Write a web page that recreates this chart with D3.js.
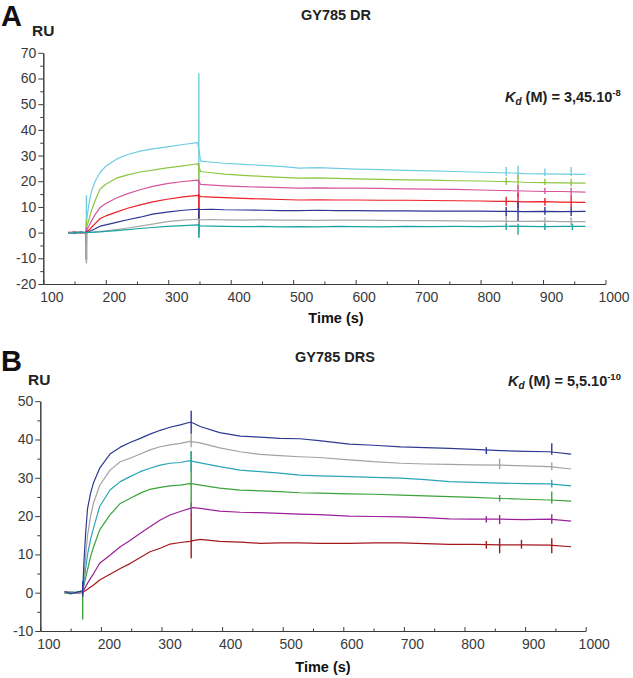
<!DOCTYPE html>
<html>
<head>
<meta charset="utf-8">
<script src="https://cdn.jsdelivr.net/npm/d3@7"></script>
<style>
body{margin:0;background:#fff;}
svg text{font-family:"Liberation Sans",Arial,Helvetica,sans-serif;}
</style>
</head>
<body>
<div id="chart"></div>
<script>
// ---- panel A : GY785 DR ----
var tA = [140,150,160,168,170,173,177,183,191,200,217,235,255,275,298,324,347,352,370,390,420,450,480,510,540,570,600,640,680,720,760,800,830,850,870,900,930,968];
var aCyan  = [-0.2,0.3,-0.1,0.2, 6,11,16,20,23.5,25.8,28.6,30.4,31.7,32.6,33.4,34.3,35, 27.8,27.4,27,26.6,26.2,25.8,25.1,25.3,25,24.7,24.5,24.2,24,23.8,23.5,23.3,23.2,23,22.9,22.8,22.7];
var aGreen = [0.2,-0.3,0.1,0, 2.5,5,8.5,12.5,17,18.8,21.2,22.5,23.6,24.3,25.2,26,26.8, 23.8,23.3,22.8,22.3,21.9,21.5,21.2,21.3,21.1,20.9,20.7,20.5,20.4,20.2,20.1,19.9,19.8,19.6,19.5,19.4,19.3];
var aPink  = [0,0.2,-0.2,0.1, 1.2,2.5,4.5,7,9.8,11.3,13.5,15.2,16.7,18,19.1,19.9,20.4, 18.8,18.5,18.2,17.9,17.7,17.5,17.3,17.4,17.3,17.3,17.2,17,16.9,16.8,16.6,16.4,16.3,16.2,16,16,15.8];
var aRed   = [-0.1,0.2,0,0, 0.5,1,2,3.5,5.5,6.5,8,9.5,10.8,12,13,13.9,14.5, 14,13.8,13.6,13.3,13.1,12.9,12.7,12.8,12.7,12.7,12.6,12.6,12.5,12.4,12.3,12.2,12.2,12,12.1,11.9,11.8];
var aBlue  = [0.1,-0.2,0.2,0, 0.2,0.4,0.8,1.5,2.5,3,4,5,6,7.2,8,8.7,9.1, 9,9.1,8.9,8.8,8.7,8.6,8.6,8.7,8.6,8.6,8.5,8.5,8.4,8.4,8.4,8.3,8.3,8.2,8.3,8.2,8.3];
var aGray  = [-0.1,0.1,0,0, 0,0.1,0.2,0.3,0.5,0.7,1.2,1.8,2.5,3.3,4.3,4.9,5.2, 5,5.1,5,4.9,5,4.9,4.9,4.8,4.9,4.9,4.8,4.7,4.7,4.6,4.5,4.5,4.4,4.4,4.5,4.3,4.3];
var aTeal  = [-0.3,0,0.2,0, 0,0.1,0.1,0.2,0.3,0.5,0.8,1.2,1.6,2,2.4,2.7,3, 2.6,2.5,2.4,2.3,2.4,2.2,2.3,2.2,2.4,2.3,2.2,2.4,2.3,2.4,2.3,2.4,2.5,2.4,2.3,2.4,2.4];
// injection artefacts: [series index, time, low, high]
var aSpikes = [
  [0,169,0,14.5],[0,349,-1.5,62],[0,841,22,25.5],[0,860,21,26],[0,903,22,25],[0,945,22,25.5],
  [1,169,-3,5],[1,349,10,27],[1,841,18.5,21.5],[1,860,17,22.5],[1,903,18.5,21],[1,945,18,21],
  [2,169,-5,2],[2,349,6,20.5],[2,860,14,18.5],[2,903,15,17.5],[2,945,14.5,17.5],
  [3,169,-10.5,0],[3,349,4,15],[3,841,10.5,14],[3,860,9.5,15.5],[3,903,10.5,13.5],[3,945,10,14.5],
  [4,169,-10.8,0],[4,349,0,9.5],[4,841,6.5,10],[4,860,4.5,12],[4,903,7,10],[4,945,6.5,10],
  [5,169,-12,0],[5,349,-2,5.5],[5,841,3,6.5],[5,903,3,6],[5,945,3,6],
  [6,349,-2,3.5],[6,841,1,3.5],[6,860,-0.8,3.5],[6,903,1,3.5],[6,947,1,3.5]
];
var aColors = ["#70cde0","#8dc641","#d6569e","#ec2028","#2e3592","#a8a8aa","#1ba3a3"];

// ---- panel B : GY785 DRS ----
var tB = [140,150,160,170,172,175,178,183,188,198,215,232,248,265,281,298,314,331,347,352,364,396,430,463,495,528,560,610,650,695,735,775,815,860,900,940,976];
var bNavy   = [0.3,-0.2,0.1, 0.5,8,16,22,26,28.8,32.5,36.2,38,39.2,40.3,41.4,42.4,43.2,43.8,44.5, 44.3,43.4,41.8,40.9,40.6,40.3,40.2,39.7,38.8,38.5,38.1,37.9,37.7,37.4,37.1,36.9,36.8,36.2];
var bGray   = [0.1,0.3,-0.2, 0.3,4,10,15,20,23.5,28,32,34.2,35.1,36.2,37.3,38.1,38.6,39,39.5, 39.4,39.1,37.8,36.8,36.1,35.8,35.5,35.3,34.7,34.2,33.8,33.6,33.5,33.4,33.3,33.1,32.9,32.3];
var bTeal   = [-0.2,0.2,0, 0.2,2.5,6.5,10,14,17,22.5,26.8,29,30.3,31.6,32.5,33.3,33.8,34,34.5, 34.3,33.9,32.9,32,31.6,31.2,30.7,30.5,30.3,30.1,29.9,29.5,29,28.8,28.6,28.5,28.4,27.9];
var bGreen  = [0,-0.3,0.2, 0.5,2,4,6,9.5,12,16.4,20.3,23.3,24.6,26,27,27.5,27.9,28.1,28.5, 28.4,28.1,27.3,26.8,26.6,26.4,26.1,26,25.8,25.7,25.5,25.3,25.1,24.9,24.6,24.4,24.2,23.9];
var bPurple = [0.2,0,-0.1, 0.2,0.8,1.6,2.5,3.8,5,7.7,9.8,12,13.6,15.5,17.2,19,20.3,21.2,22, 22.2,22,21.3,21,20.9,20.7,20.5,20.4,20,19.9,19.8,19.6,19.3,19.2,19.2,19.1,19.2,18.7];
var bRed    = [0,0.2,-0.1, 0,0.3,0.6,0.9,1.5,2,3.3,4.8,6.3,7.6,9.2,10.7,11.6,12.7,13.1,13.4, 13.6,13.9,13.4,13.2,12.9,13,13,12.9,12.9,13,13,12.8,12.6,12.6,12.5,12.5,12.4,12];
var bSpikes = [
  [0,170,-1,3],[0,349,41.5,47.5],[0,944,36,39],[0,836,36.2,38],
  [1,349,38,41.5],[1,858,32.3,35],[1,944,32,34],
  [2,349,31.5,37],[2,944,27.5,29.5],
  [3,170,-7,3],[3,349,22,36.8],[3,944,23.3,26.4],[3,858,23.8,25.5],
  [4,349,20.5,23.5],[4,836,18.3,20],[4,858,17.9,20.3],[4,944,18,20.5],
  [5,349,9,20.7],[5,836,11.5,13.5],[5,858,10.3,14.2],[5,894,11.5,13.8],[5,944,10.3,14.2]
];
var bColors = ["#2e3a92","#a7a0a0","#2ba5b6","#3ba33a","#9c2099","#a3171d"];

var xTicks = [100,200,300,400,500,600,700,800,900,1000];
var xMinor = [150,250,350,450,550,650,750,850,950];

var svg = d3.select("#chart").append("svg")
  .attr("width", 633)
  .attr("height", 678);

function plain(d){ return String(d); }

function drawPanel(p){
  var x = d3.scaleLinear().domain([100,1000]).range(p.xRange);
  var y = d3.scaleLinear().domain(p.yDomain).range(p.yRange);
  var g = svg.append("g");

  // minor ticks first
  g.append("g")
    .attr("transform","translate(0," + p.yRange[0] + ")")
    .call(d3.axisBottom(x).tickValues(xMinor).tickSize(-2.5).tickSizeOuter(0).tickFormat(""));
  g.append("g")
    .attr("transform","translate(" + p.xRange[0] + ",0)")
    .call(d3.axisLeft(y).tickValues(p.yMinor).tickSize(3).tickSizeOuter(0).tickFormat(""));

  var xa = g.append("g")
    .attr("transform","translate(0," + p.yRange[0] + ")")
    .call(d3.axisBottom(x).tickValues(xTicks).tickSize(-4).tickSizeOuter(0).tickPadding(8).tickFormat(plain));
  xa.selectAll("text").attr("dx", 8);
  g.append("g")
    .attr("transform","translate(" + p.xRange[0] + ",0)")
    .call(d3.axisLeft(y).tickValues(p.yTicks).tickSize(5).tickSizeOuter(0).tickPadding(2).tickFormat(plain));

  g.selectAll(".domain, .tick line").attr("stroke","#3a3a3a");
  g.selectAll(".tick text")
    .attr("fill","#3a3a3a")
    .style("font-size","14px")
    .style("font-family","'Liberation Sans',Arial,sans-serif");

  var line = d3.line()
    .x(function(d){ return x(d[0]); })
    .y(function(d){ return y(d[1]); });

  p.order.forEach(function(i){
    var pts = p.times.map(function(t,k){ return [t, p.series[i][k]]; });
    g.append("path")
      .datum(pts)
      .attr("fill","none")
      .attr("stroke",p.colors[i])
      .attr("stroke-width",1.2)
      .attr("stroke-linejoin","round")
      .attr("d",line);
    p.spikes.filter(function(s){ return s[0] === i; }).forEach(function(s){
      g.append("line")
        .attr("x1",x(s[1])).attr("x2",x(s[1]))
        .attr("y1",y(s[2])).attr("y2",y(s[3]))
        .attr("stroke",p.colors[i])
        .attr("stroke-width",1.4);
    });
  });

  // labels
  svg.append("text").attr("x",p.letter[0]).attr("y",p.letter[1])
    .style("font-size","29px").style("font-weight","bold").attr("fill","#111").text(p.letterText);
  svg.append("text").attr("x",p.ru[0]).attr("y",p.ru[1])
    .style("font-size","15.5px").style("font-weight","bold").attr("fill","#222").text("RU");
  svg.append("text").attr("x",p.title[0]).attr("y",p.title[1])
    .attr("text-anchor","middle")
    .style("font-size","14.5px").style("font-weight","bold").attr("fill","#222").text(p.titleText);
  svg.append("text").attr("x",p.timeLab[0]).attr("y",p.timeLab[1])
    .attr("text-anchor","middle")
    .style("font-size","14.5px").style("font-weight","bold").attr("fill","#111").text("Time (s)");

  var kd = svg.append("text").attr("x",p.kd[0]).attr("y",p.kd[1])
    .style("font-size","14.5px").style("font-weight","bold").attr("fill","#222");
  kd.append("tspan").style("font-style","italic").text("K");
  kd.append("tspan").style("font-style","italic").style("font-size","10px").attr("dy",3).text("d");
  kd.append("tspan").attr("dy",-3).text(" (M) = " + p.kdText);
  kd.append("tspan").style("font-size","9.5px").attr("dy",-6).text(p.kdExp);
}

drawPanel({
  times: tA,
  series: [aCyan,aGreen,aPink,aRed,aBlue,aGray,aTeal],
  spikes: aSpikes,
  colors: aColors,
  order: [0,1,2,3,4,5,6],
  xRange: [43.3,605.5],
  yDomain: [-20,70],
  yRange: [284,52.8],
  yTicks: [-20,-10,0,10,20,30,40,50,60,70],
  yMinor: [-15,-5,5,15,25,35,45,55,65],
  letter: [1,26], letterText: "A",
  ru: [32,36],
  title: [336,20], titleText: "GY785 DR",
  timeLab: [336,323],
  kd: [505,102], kdText: "3,45.10", kdExp: "-8"
});

drawPanel({
  times: tB,
  series: [bNavy,bGray,bTeal,bGreen,bPurple,bRed],
  spikes: bSpikes,
  colors: bColors,
  order: [5,4,3,2,1,0],
  xRange: [40.3,585.7],
  yDomain: [-10,50],
  yRange: [631,401.2],
  yTicks: [-10,0,10,20,30,40,50],
  yMinor: [-5,5,15,25,35,45],
  letter: [1,371], letterText: "B",
  ru: [28,385],
  title: [335,362], titleText: "GY785 DRS",
  timeLab: [323,672],
  kd: [508,386], kdText: "5,5.10", kdExp: "-10"
});
</script>
</body>
</html>
